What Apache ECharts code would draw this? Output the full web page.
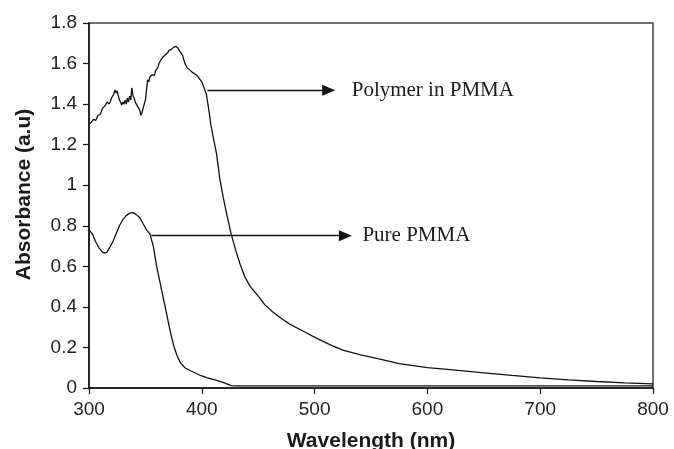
<!DOCTYPE html>
<html>
<head>
<meta charset="utf-8">
<script src="https://cdn.jsdelivr.net/npm/echarts@6/dist/echarts.min.js"></script>
<style>
html,body{margin:0;padding:0;background:#fff;}
#chart{width:674px;height:449px;}
</style>
</head>
<body>
<div id="chart"></div>
<script>
// Wavelength (nm) and absorbance values
const polymerWavelength = [300,302,304,306,308,310,312,314,316,318,320,321,322,323,324,325,326,327,328,329,330,331,332,333,334,335,336,337,338,339,340,341,342,343,344,345,346,347,348,349,350,351,352,353,354,355,356,357,358,359,360,361,362,363,364,365,366,367,368,369,370,371,372,373,374,375,376,377,378,379,380,381,383,385,387,389,392,395,398,400,402,404,406,408,410,413,416,419,422,426,430,434,438,443,449,456,463,470,478,490,502,515,525,540,555,575,600,625,650,675,700,725,750,775,800];
const polymerAbsorbance = [1.30,1.31,1.325,1.32,1.345,1.35,1.38,1.39,1.41,1.40,1.43,1.44,1.45,1.47,1.455,1.465,1.44,1.42,1.41,1.395,1.41,1.40,1.42,1.40,1.43,1.41,1.44,1.42,1.48,1.44,1.43,1.41,1.415,1.39,1.38,1.37,1.345,1.36,1.38,1.40,1.42,1.47,1.52,1.51,1.535,1.53,1.545,1.55,1.54,1.565,1.57,1.58,1.60,1.595,1.62,1.615,1.635,1.63,1.645,1.64,1.655,1.665,1.66,1.67,1.665,1.68,1.675,1.685,1.68,1.675,1.665,1.66,1.64,1.60,1.58,1.57,1.555,1.545,1.525,1.51,1.48,1.45,1.38,1.30,1.24,1.157,1.03,0.94,0.86,0.76,0.68,0.61,0.55,0.50,0.46,0.41,0.375,0.345,0.315,0.28,0.245,0.21,0.187,0.165,0.146,0.12,0.10,0.088,0.075,0.062,0.05,0.04,0.032,0.025,0.02];

const pureWavelength = [300,303,306,309,312,314,316,318,321,324,327,330,333,336,339,342,345,348,351,354,357,360,363,366,369,372,375,378,381,385,390,398,405,413,420,426,430,500,600,700,800];
const pureAbsorbance = [0.78,0.76,0.72,0.69,0.67,0.665,0.67,0.69,0.72,0.76,0.80,0.83,0.85,0.862,0.865,0.855,0.84,0.81,0.78,0.76,0.70,0.60,0.52,0.44,0.36,0.28,0.21,0.16,0.125,0.10,0.085,0.064,0.05,0.038,0.025,0.012,0.01,0.01,0.01,0.01,0.01];

const xTicks = [300,400,500,600,700,800];
const yTicks = [0,0.2,0.4,0.6,0.8,1,1.2,1.4,1.6,1.8];

// Annotation arrows: [startWavelength, endWavelength, absorbance, label]
const polymerArrow = [405, 512.5, 1.468, 'Polymer in PMMA'];
const pureArrow = [355.3, 527.3, 0.751, 'Pure PMMA'];

function pairs(xs, ys){ return xs.map((x,i)=>[x, ys[i]]); }

const chart = echarts.init(document.getElementById('chart'), null, {renderer:'canvas'});
const serif = '"Liberation Serif","Times New Roman",serif';
const sans = '"Liberation Sans",Arial,sans-serif';

function arrowLine(a, dist){
  return {
    silent: true,
    symbol: ['none','triangle'],
    symbolSize: [11, 13],
    lineStyle: {color:'#111', width:1.3, type:'solid'},
    label: {show:true, position:'end', distance: dist, formatter: a[3],
            fontFamily: serif, fontSize: 21, color:'#1a1a1a'},
    data: [[{coord:[a[0], a[2]]},{coord:[a[1], a[2]]}]]
  };
}

chart.setOption({
  animation: false,
  backgroundColor: '#fff',
  grid: {left: 89, right: 21, top: 23, bottom: 61, containLabel: false, outerBoundsMode: 'none',
         show: true, borderColor: '#444', borderWidth: 1.5, backgroundColor: 'transparent'},
  xAxis: {
    type: 'value', min: xTicks[0], max: xTicks[xTicks.length-1], interval: 100,
    name: 'Wavelength (nm)', nameLocation: 'middle', nameGap: 43,
    nameTextStyle: {fontFamily: sans, fontWeight: 'bold', fontSize: 21, color: '#1a1a1a'},
    axisLine: {show: true, onZero: false, lineStyle: {color: '#111', width: 1.5}},
    axisTick: {show: true, inside: false, length: 6, lineStyle: {color: '#111', width: 1.2}},
    axisLabel: {margin: 12, fontFamily: sans, fontSize: 19, color: '#222'},
    splitLine: {show: false}
  },
  yAxis: {
    type: 'value', min: yTicks[0], max: yTicks[yTicks.length-1], interval: 0.2,
    name: 'Absorbance (a.u)', nameLocation: 'middle', nameGap: 54,
    nameTextStyle: {fontFamily: sans, fontWeight: 'bold', fontSize: 21, color: '#1a1a1a', padding: [0, 0, 0, 22]},
    axisLine: {show: true, onZero: false, lineStyle: {color: '#111', width: 1.5}},
    axisTick: {show: true, inside: false, length: 6, lineStyle: {color: '#111', width: 1.2}},
    axisLabel: {margin: 12, fontFamily: sans, fontSize: 19, color: '#222'},
    splitLine: {show: false}
  },
  series: [
    {
      name: 'Polymer in PMMA', type: 'line', showSymbol: false, symbol: 'none',
      data: pairs(polymerWavelength, polymerAbsorbance),
      lineStyle: {color: '#111', width: 1.3},
      markLine: arrowLine(polymerArrow, 23)
    },
    {
      name: 'Pure PMMA', type: 'line', showSymbol: false, symbol: 'none',
      data: pairs(pureWavelength, pureAbsorbance),
      lineStyle: {color: '#111', width: 1.3},
      markLine: arrowLine(pureArrow, 17)
    }
  ]
});
</script>
</body>
</html>
